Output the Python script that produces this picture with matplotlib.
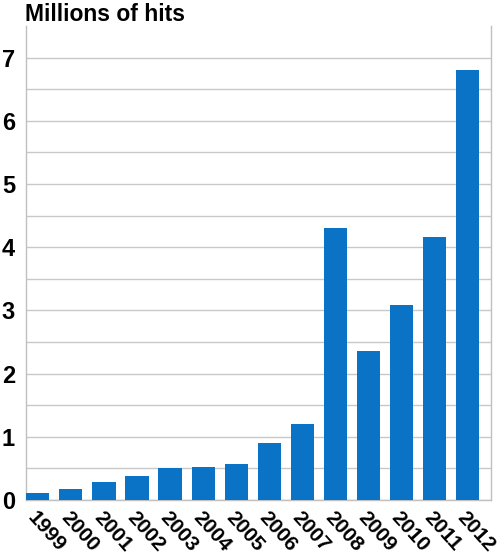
import matplotlib
matplotlib.use("Agg")
import matplotlib.pyplot as plt
import numpy as np

years = ["1999", "2000", "2001", "2002", "2003", "2004", "2005",
         "2006", "2007", "2008", "2009", "2010", "2011", "2012"]
hits = [0.11, 0.18, 0.29, 0.38, 0.50, 0.53, 0.57,
        0.90, 1.21, 4.31, 2.36, 3.09, 4.17, 6.81]
yticks = [0, 1, 2, 3, 4, 5, 6, 7]

plt.rcParams['font.family'] = ['Liberation Sans', 'DejaVu Sans']

fig = plt.figure(figsize=(4.98, 5.55), dpi=100)
ax = fig.add_axes([0.0522, 0.099, 0.934, 0.854])

x = np.arange(len(years))
ax.bar(x, hits, width=0.7, color='#0a73c6', zorder=3)

ax.set_xlim(-0.36, 13.72)
ax.set_ylim(0, 7.5)
ax.set_yticks(yticks)
ax.set_yticklabels([str(v) for v in yticks], fontsize=17, fontweight='bold')
ax.set_yticks(np.arange(0.5, 7.5, 0.5), minor=True)
ax.grid(axis='y', which='both', color='#c8c8c8', linewidth=1.0, zorder=0)
ax.tick_params(axis='y', which='both', length=0, pad=8)

ax.set_xticks(x)
ax.set_xticklabels(years, fontsize=15, fontweight='bold', rotation=-48,
                   ha='left', va='top', rotation_mode='anchor')
ax.tick_params(axis='x', length=0, pad=6)

for side in ['left', 'right', 'bottom']:
    ax.spines[side].set_color('#c0c0c0')
    ax.spines[side].set_linewidth(1.0)
ax.spines['top'].set_visible(False)

fig.text(0.05, 0.995, "Millions of hits", fontsize=16.5, fontweight='bold',
         ha='left', va='top')

fig.savefig("out.png", dpi=100)
